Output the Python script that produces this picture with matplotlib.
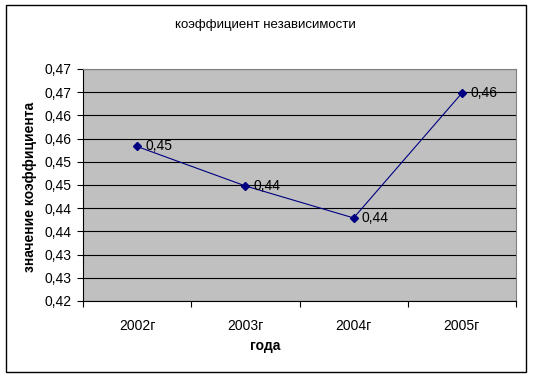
import matplotlib
matplotlib.use("Agg")
import matplotlib.pyplot as plt
from matplotlib.patches import Rectangle

plt.rcParams['font.family'] = ['Liberation Sans', 'DejaVu Sans']

categories = ['2002г', '2003г', '2004г', '2005г']
values = [0.4533, 0.4448, 0.4379, 0.4648]
point_labels = ['0,45', '0,44', '0,44', '0,46']
y_ticks = [0.420, 0.425, 0.430, 0.435, 0.440, 0.445, 0.450, 0.455, 0.460, 0.465, 0.470]
y_tick_labels = ['0,42', '0,43', '0,43', '0,44', '0,44', '0,45', '0,45', '0,46', '0,46', '0,47', '0,47']
title = 'коэффициент независимости'
x_title = 'года'
y_title = 'значение коэффициента'

W, H = 533, 378
fig = plt.figure(figsize=(W / 100, H / 100), dpi=100)
fig.patch.set_facecolor('white')

# outer chart border
fig.add_artist(Rectangle((5.5 / W, 1 - 372 / H), (526 - 5.5) / W, (372 - 5) / H,
                         transform=fig.transFigure, fill=False, edgecolor='black', linewidth=1.0))

ax = fig.add_axes([83 / W, 1 - 301 / H, (516 - 83) / W, (301 - 69) / H])
ax.set_facecolor('#C0C0C0')

x = list(range(len(categories)))
ax.plot(x, values, color='#000080', linewidth=0.8, marker='D', markersize=4.2,
        markerfacecolor='#000080', markeredgecolor='#000080', zorder=3)
for xi, v, lab in zip(x, values, point_labels):
    ax.annotate(lab, (xi, v), xytext=(6, 0), textcoords='offset points',
                va='center', ha='left', fontsize=10, color='black', zorder=4)

ax.set_xlim(-0.5, len(categories) - 0.5)
ax.set_ylim(y_ticks[0], y_ticks[-1])
ax.set_yticks(y_ticks)
ax.set_yticklabels(y_tick_labels, fontsize=10)
ax.set_xticks(x)
ax.set_xticklabels(categories, fontsize=10)
ax.set_xticks([i - 0.5 for i in range(len(categories) + 1)], minor=True)
ax.tick_params(axis='x', which='major', length=0, pad=13)
ax.tick_params(axis='x', which='minor', length=4, direction='out', width=0.8)
ax.tick_params(axis='y', length=4, direction='out', width=0.8, pad=4)
ax.grid(axis='y', color='black', linewidth=0.8, zorder=1)
ax.set_axisbelow(True)

for side in ['top', 'right']:
    ax.spines[side].set_color('#808080')
    ax.spines[side].set_linewidth(0.8)
for side in ['left', 'bottom']:
    ax.spines[side].set_color('black')
    ax.spines[side].set_linewidth(0.8)

fig.text(265 / W, 1 - 25 / H, title, ha='center', va='center', fontsize=9.5)
fig.text(265 / W, 1 - 346 / H, x_title, ha='center', va='center', fontsize=10, fontweight='bold')
fig.text(30 / W, 1 - 187 / H, y_title, ha='center', va='center', fontsize=10,
         fontweight='bold', rotation=90)

fig.savefig('out.png', dpi=100)
